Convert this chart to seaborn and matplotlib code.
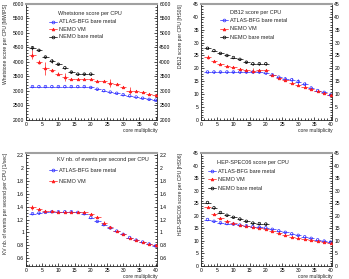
import matplotlib
matplotlib.use("Agg")
import matplotlib.pyplot as plt
import matplotlib.ticker as mticker
from matplotlib.lines import Line2D
import seaborn as sns
import pandas as pd
import numpy as np

sns.set_style("ticks")
plt.rcParams['font.family'] = ['Liberation Sans', 'DejaVu Sans']

# Data
cores = [2, 4, 6, 8, 10, 12, 14, 16, 18, 20, 22, 24, 26, 28, 30, 32, 34, 36, 38, 40]
cores_bm = [2, 4, 6, 8, 10, 12, 14, 16, 18, 20]

whet_atlas = [3150, 3150, 3150, 3150, 3150, 3150, 3150, 3150, 3150, 3120,
              3060, 3010, 2960, 2920, 2870, 2830, 2790, 2750, 2710, 2680]
whet_atlas_err = [10] * 20
whet_vm = [4250, 4000, 3780, 3710, 3600, 3480, 3420, 3420, 3420, 3420,
           3350, 3340, 3270, 3250, 3130, 3010, 3000, 2950, 2900, 2860]
whet_vm_err = [150, 60, 220, 40, 40, 140, 40, 30, 30, 30, 30, 30, 140, 30, 40, 120, 30, 30, 30, 30]
whet_bm = [4490, 4400, 4170, 4030, 3920, 3800, 3650, 3580, 3580, 3580]
whet_bm_err = [70, 40, 30, 60, 40, 30, 30, 30, 30, 30]

db12_atlas = [18.6, 18.6, 18.6, 18.6, 18.6, 18.6, 18.6, 18.6, 18.6, 18.2,
              17.5, 16.6, 15.9, 15.6, 14.9, 13.9, 12.4, 11.4, 10.7, 9.7]
db12_atlas_err = [0.2] * 12 + [0.8, 0.8, 0.9, 0.9, 0.3, 0.2, 0.2, 0.2]
db12_vm = [24.3, 23.0, 21.8, 21.1, 20.4, 19.7, 19.3, 19.1, 19.4, 19.3,
           17.6, 16.4, 15.4, 14.4, 13.6, 12.9, 12.1, 11.3, 10.4, 9.5]
db12_vm_err = [0.8, 0.3, 0.3, 0.3, 0.3, 0.3, 0.3, 0.9, 0.3, 0.3, 0.3, 0.3, 0.3, 0.3, 0.3, 0.3, 0.3, 0.3, 0.3, 0.3]
db12_bm = [27.8, 26.9, 25.8, 25.0, 24.2, 23.5, 22.4, 21.8, 21.8, 21.8]
db12_bm_err = [0.3] * 10

kv_atlas = [1.29, 1.30, 1.31, 1.32, 1.32, 1.32, 1.32, 1.31, 1.29, 1.23,
            1.17, 1.12, 1.07, 1.02, 0.97, 0.92, 0.88, 0.85, 0.82, 0.79]
kv_atlas_err = [0.01] * 20
kv_vm = [1.39, 1.36, 1.33, 1.33, 1.32, 1.32, 1.31, 1.31, 1.31, 1.29,
         1.24, 1.15, 1.08, 1.02, 0.97, 0.92, 0.88, 0.85, 0.82, 0.80]
kv_vm_err = [0.04, 0.02, 0.02, 0.01, 0.01, 0.01, 0.01, 0.01, 0.02, 0.01,
             0.01, 0.02, 0.01, 0.01, 0.01, 0.01, 0.01, 0.01, 0.01, 0.02]

hs_atlas = [18.5, 17.8, 17.2, 16.9, 16.7, 16.3, 16.0, 15.7, 15.5, 15.2,
            14.6, 14.0, 13.4, 12.8, 12.2, 11.6, 11.0, 10.4, 9.9, 9.5]
hs_atlas_err = [0.3] * 20
hs_vm = [23.5, 20.8, 19.2, 18.0, 17.0, 16.3, 15.9, 15.5, 15.3, 14.8,
         13.8, 13.0, 12.3, 11.6, 11.0, 10.6, 10.2, 9.8, 9.4, 9.0]
hs_vm_err = [0.3, 0.5, 0.4, 0.3, 0.3, 0.3, 0.3, 0.3, 0.3, 0.3, 0.3, 0.3, 0.3, 0.3, 0.3, 0.3, 0.3, 0.3, 0.3, 0.3]
hs_bm = [25.3, 23.2, 21.3, 20.2, 19.4, 18.7, 17.8, 17.1, 16.9, 16.7]
hs_bm_err = [0.3] * 10

BLUE = "#2a2aff"
RED = "#ff1a1a"
BLACK = "#000000"
styles = {
    "ATLAS-BFG bare metal": (BLUE, "o", "none"),
    "NEMO VM": (RED, "^", RED),
    "NEMO bare metal": (BLACK, "o", "none"),
}

fs = 3.6
f = plt.figure(figsize=(3.49, 2.79), dpi=100)
axes = [
    f.add_axes([0.0745, 0.570, 0.376, 0.416]),
    f.add_axes([0.576, 0.570, 0.376, 0.416]),
    f.add_axes([0.0745, 0.047, 0.376, 0.404]),
    f.add_axes([0.576, 0.047, 0.376, 0.404]),
]


def draw(ax, x, y, err, name):
    color, marker, mfc = styles[name]
    ax.errorbar(x, y, xerr=1, yerr=err, fmt="none", ecolor=color, elinewidth=0.5, capsize=0)
    df = pd.DataFrame({"x": x, "y": y})
    sns.scatterplot(data=df, x="x", y="y", ax=ax, marker=marker, s=3.5,
                    facecolor=mfc, edgecolor=color, linewidth=0.5, legend=False, zorder=3)


panels = [
    (axes[0], "Whetstone score per CPU", "Whetstone score per CPU [MWIPS]", (2000, 6000), 500, 100,
     [(cores, whet_atlas, whet_atlas_err, "ATLAS-BFG bare metal"),
      (cores, whet_vm, whet_vm_err, "NEMO VM"),
      (cores_bm, whet_bm, whet_bm_err, "NEMO bare metal")]),
    (axes[1], "DB12 score per CPU", "DB12 score per CPU [HS06]", (0, 45), 5, 1,
     [(cores, db12_atlas, db12_atlas_err, "ATLAS-BFG bare metal"),
      (cores, db12_vm, db12_vm_err, "NEMO VM"),
      (cores_bm, db12_bm, db12_bm_err, "NEMO bare metal")]),
    (axes[2], "KV nb. of events per second per CPU", "KV nb. of events per second per CPU [1/sec]", (0.48, 2.23), 0.2, 0.05,
     [(cores, kv_atlas, kv_atlas_err, "ATLAS-BFG bare metal"),
      (cores, kv_vm, kv_vm_err, "NEMO VM")]),
    (axes[3], "HEP-SPEC06 score per CPU", "HEP-SPEC06 score per CPU [HS06]", (0, 45), 5, 1,
     [(cores, hs_atlas, hs_atlas_err, "ATLAS-BFG bare metal"),
      (cores, hs_vm, hs_vm_err, "NEMO VM"),
      (cores_bm, hs_bm, hs_bm_err, "NEMO bare metal")]),
]

# header position, legend anchor, label spacing (axes fraction)
leg_pos = [
    ((0.244, 0.914), (0.176, 0.866), 0.45),
    ((0.22, 0.922), (0.145, 0.875), 0.55),
    ((0.237, 0.946), (0.176, 0.866), 1.0),
    ((0.122, 0.92), (0.053, 0.862), 0.63),
]

for (ax, title, ylabel, ylim, major, minor, series), (hpos, lpos, spacing) in zip(panels, leg_pos):
    for x, y, err, name in series:
        draw(ax, x, y, err, name)
    ax.set_xlim(0, 40.5)
    ax.set_ylim(*ylim)
    ax.xaxis.set_major_locator(mticker.MultipleLocator(5))
    ax.xaxis.set_minor_locator(mticker.MultipleLocator(1))
    ax.yaxis.set_major_locator(mticker.MultipleLocator(major))
    ax.yaxis.set_minor_locator(mticker.MultipleLocator(minor))
    ax.yaxis.set_major_formatter(mticker.FuncFormatter(lambda v, p: f"{v:g}"))
    ax.tick_params(which="both", direction="in", right=True, labelright=True,
                   labelsize=fs, width=0.5, pad=1.5, colors="black")
    ax.tick_params(which="major", length=2.5)
    ax.tick_params(which="minor", length=1.3)
    for side in ["left", "bottom", "right"]:
        ax.spines[side].set_linewidth(0.6)
    ax.spines["top"].set_color("#a0a0a0")
    ax.spines["top"].set_linewidth(1.5)
    ax.set_xlabel("core multiplicity", fontsize=fs, loc="right", labelpad=1)
    ax.set_ylabel(ylabel, fontsize=fs, loc="top")
    ax.yaxis.set_label_coords(-0.135, 1.0)
    ax.text(hpos[0], hpos[1], title, transform=ax.transAxes, fontsize=4, va="center", ha="left")
    handles = []
    for x, y, err, name in series:
        color, marker, mfc = styles[name]
        handles.append(Line2D([], [], color=color, marker=marker, markersize=2,
                              markerfacecolor=mfc, markeredgecolor=color, lw=0.5, markeredgewidth=0.5))
    ax.legend(handles, [s[3] for s in series], loc="upper left", bbox_to_anchor=lpos,
              frameon=False, fontsize=4, handlelength=1.5, handletextpad=0.3,
              labelspacing=spacing, borderaxespad=0, borderpad=0)

plt.savefig("out.png", dpi=100)
